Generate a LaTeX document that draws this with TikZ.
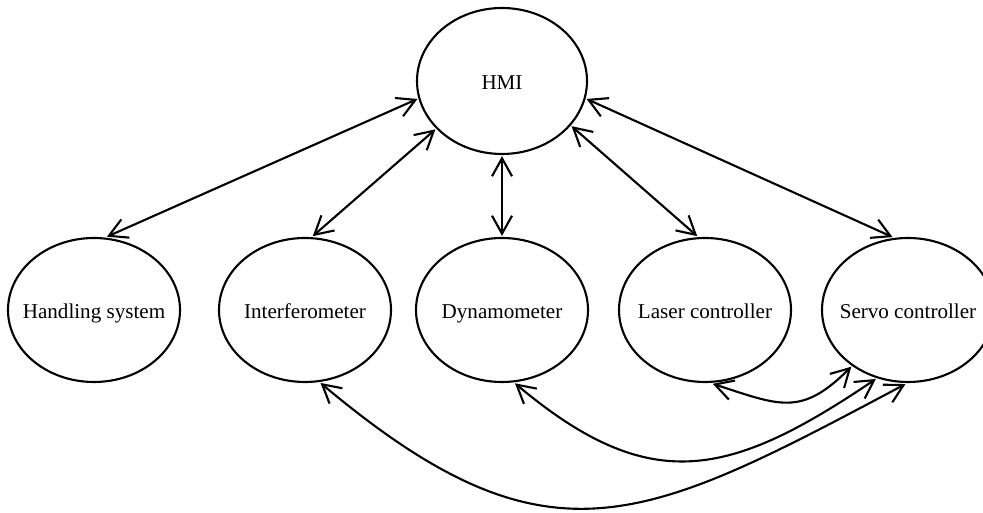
\documentclass[tikz,border=0pt]{standalone}
\usepackage{fontspec}
\setmainfont{Liberation Serif}
\usetikzlibrary{arrows.meta,shapes.geometric}
\begin{document}
\begin{tikzpicture}[
    unit/.style={draw, ellipse, line width=1.5pt, minimum width=4.3cm,
      minimum height=3.6cm, inner sep=0pt, outer sep=1.5pt,
      text height=2.6ex, text depth=0ex,
      font=\fontsize{15}{18}\selectfont},
    >={Straight Barb[length=4.5mm,width=5mm]}
  ]
  \useasboundingbox (0,0) rectangle (24.575,12.825);
  \draw
    (12.55,10.8) node[unit, minimum width=4.25cm, minimum height=3.65cm] (hmi){HMI}
    (2.35,5.075) node[unit] (hs){\makebox[0pt]{Handling system}}
    (7.625,5.075) node[unit] (if){\makebox[0pt]{Interferometer}}
    (12.55,5.075) node[unit] (dy){\makebox[0pt]{Dynamometer}}
    (17.625,5.075) node[unit] (lc){\makebox[0pt]{Laser controller}}
    (22.7,5.075) node[unit] (sc){\makebox[0pt]{Servo controller}};
  \begin{scope}[<->, line width=1.5pt]
    \draw (hmi.192) to (hs.80);
    \draw (hmi.216) to (if.84);
    \draw (hmi.270) to (dy.90);
    \draw (hmi.327) to (lc.96);
    \draw (hmi.348) to (sc.102);
    \draw (lc.276) to[out=-18, in=225, looseness=1.3] (sc.225);
    \draw (dy.280) to[out=-40, in=214, looseness=1.25] (sc.245);
    \draw (if.282) to[out=-40, in=208, looseness=1.3] (sc.268);
  \end{scope}
\end{tikzpicture}
\end{document}
